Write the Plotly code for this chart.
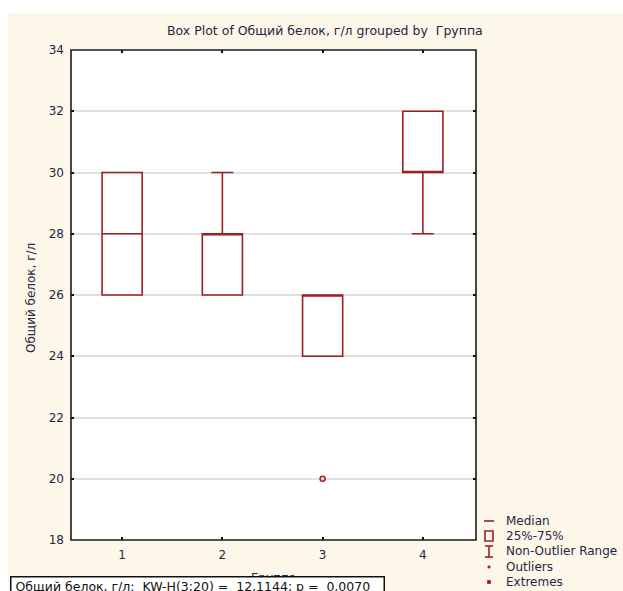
import plotly.graph_objects as go

# Summary statistics per group (Общий белок, г/л)
groups = [1, 2, 3, 4]
q1 = [26, 26, 24, 30]
median = [28, 28, 26, 30]
q3 = [30, 28, 26, 32]
lower_fence = [26, 26, 24, 28]
upper_fence = [30, 30, 26, 32]
outlier_x = [3]
outlier_y = [20]
y_ticks = [18, 20, 22, 24, 26, 28, 30, 32, 34]

W, H = 623, 591
L, R, T, B = 71, 476, 50, 540  # plot frame in pixels

BOX = "#9e1f22"
TXT = "#262640"
CREAM = "#fdf7ea"
FONT = "DejaVu Sans"


def px(x):
    return (x - L) / (R - L)


def py(y):
    return (B - y) / (B - T)


fig = go.Figure()
fig.add_trace(go.Box(
    x=groups, q1=q1, median=median, q3=q3,
    lowerfence=lower_fence, upperfence=upper_fence,
    boxpoints=False, width=0.4, whiskerwidth=0.55,
    fillcolor="rgba(255,255,255,0)",
    line=dict(color=BOX, width=1.6),
    showlegend=False, hoverinfo="skip",
))
fig.add_trace(go.Scatter(
    x=outlier_x, y=outlier_y, mode="markers",
    marker=dict(symbol="circle-open", size=5, color=BOX, line=dict(width=1.5, color=BOX)),
    showlegend=False, hoverinfo="skip",
))

shapes = [
    # cream page background
    dict(type="rect", xref="paper", yref="paper", x0=px(8), x1=px(W + 5), y0=py(H + 5), y1=py(13),
         fillcolor=CREAM, line=dict(width=0), layer="below"),
    # white plotting area
    dict(type="rect", xref="paper", yref="paper", x0=0, x1=1, y0=0, y1=1,
         fillcolor="white", line=dict(width=0), layer="below"),
    # frame
    dict(type="rect", xref="paper", yref="paper", x0=0, x1=1, y0=0, y1=1,
         line=dict(color="#1a1a1a", width=1.6), layer="above"),
]

# legend glyphs
lx = 489
shapes += [
    dict(type="line", xref="paper", yref="paper", x0=px(lx - 5), x1=px(lx + 5), y0=py(521), y1=py(521),
         line=dict(color=BOX, width=1.6)),
    dict(type="rect", xref="paper", yref="paper", x0=px(lx - 4), x1=px(lx + 4), y0=py(541), y1=py(531),
         line=dict(color=BOX, width=1.6)),
    dict(type="line", xref="paper", yref="paper", x0=px(lx), x1=px(lx), y0=py(557), y1=py(546),
         line=dict(color=BOX, width=1.6)),
    dict(type="line", xref="paper", yref="paper", x0=px(lx - 4), x1=px(lx + 4), y0=py(546), y1=py(546),
         line=dict(color=BOX, width=1.6)),
    dict(type="line", xref="paper", yref="paper", x0=px(lx - 4), x1=px(lx + 4), y0=py(557), y1=py(557),
         line=dict(color=BOX, width=1.6)),
    dict(type="rect", xref="paper", yref="paper", x0=px(lx - 1), x1=px(lx + 1), y0=py(568), y1=py(566),
         fillcolor=BOX, line=dict(color=BOX, width=0.8)),
    dict(type="rect", xref="paper", yref="paper", x0=px(lx - 1.5), x1=px(lx + 1.5), y0=py(583.5), y1=py(580.5),
         fillcolor=BOX, line=dict(color=BOX, width=0.8)),
]

annotations = []
for label, yy in [("Median", 521), ("25%-75%", 536), ("Non-Outlier Range", 551),
                  ("Outliers", 567), ("Extremes", 582)]:
    annotations.append(dict(text=label, xref="paper", yref="paper", x=px(504), y=py(yy),
                            xanchor="left", yanchor="middle", showarrow=False,
                            font=dict(family=FONT, size=12, color=TXT)))

# title
annotations.append(dict(text="Box Plot of Общий белок, г/л grouped by  Группа",
                        xref="paper", yref="paper", x=px(325), y=py(31),
                        xanchor="center", yanchor="middle", showarrow=False,
                        font=dict(family=FONT, size=12.5, color=TXT)))
# axis titles
annotations.append(dict(text="Общий белок, г/л", xref="paper", yref="paper",
                        x=px(31), y=py(298), textangle=-90,
                        xanchor="center", yanchor="middle", showarrow=False,
                        font=dict(family=FONT, size=12, color=TXT)))
annotations.append(dict(text="Группа", xref="paper", yref="paper",
                        x=px(273), y=py(578),
                        xanchor="center", yanchor="middle", showarrow=False,
                        font=dict(family=FONT, size=12, color=TXT)))
# test statistic box
annotations.append(dict(text=" Общий белок, г/л:  KW-H(3;20) =  12,1144; p =  0,0070",
                        xref="paper", yref="paper", x=px(10), y=py(575.5),
                        xanchor="left", yanchor="top", showarrow=False,
                        width=372, height=17, align="left", valign="middle",
                        bgcolor="white", bordercolor="#111111", borderwidth=1.5, borderpad=0,
                        font=dict(family=FONT, size=12.5, color="#111111")))

fig.update_layout(
    width=W, height=H,
    margin=dict(l=L, r=W - R, t=T, b=H - B),
    paper_bgcolor="white", plot_bgcolor="rgba(0,0,0,0)",
    shapes=shapes, annotations=annotations,
    xaxis=dict(range=[0.49, 4.53], tickvals=groups, ticktext=[str(g) for g in groups],
               showgrid=False, zeroline=False, ticks="inside", ticklen=3, tickwidth=1.5,
               tickcolor="#111111", mirror="ticks", showline=False,
               ticklabelstandoff=6,
               tickfont=dict(family=FONT, size=12, color=TXT)),
    yaxis=dict(range=[18, 34], tickvals=y_ticks, showgrid=True, gridcolor="#e0e0e0",
               gridwidth=1.5, zeroline=False, ticks="inside", ticklen=3, tickwidth=1.5,
               tickcolor="#111111", mirror="ticks", showline=False,
               ticklabelstandoff=6,
               tickfont=dict(family=FONT, size=12, color=TXT)),
)

fig.write_html("out.html")
